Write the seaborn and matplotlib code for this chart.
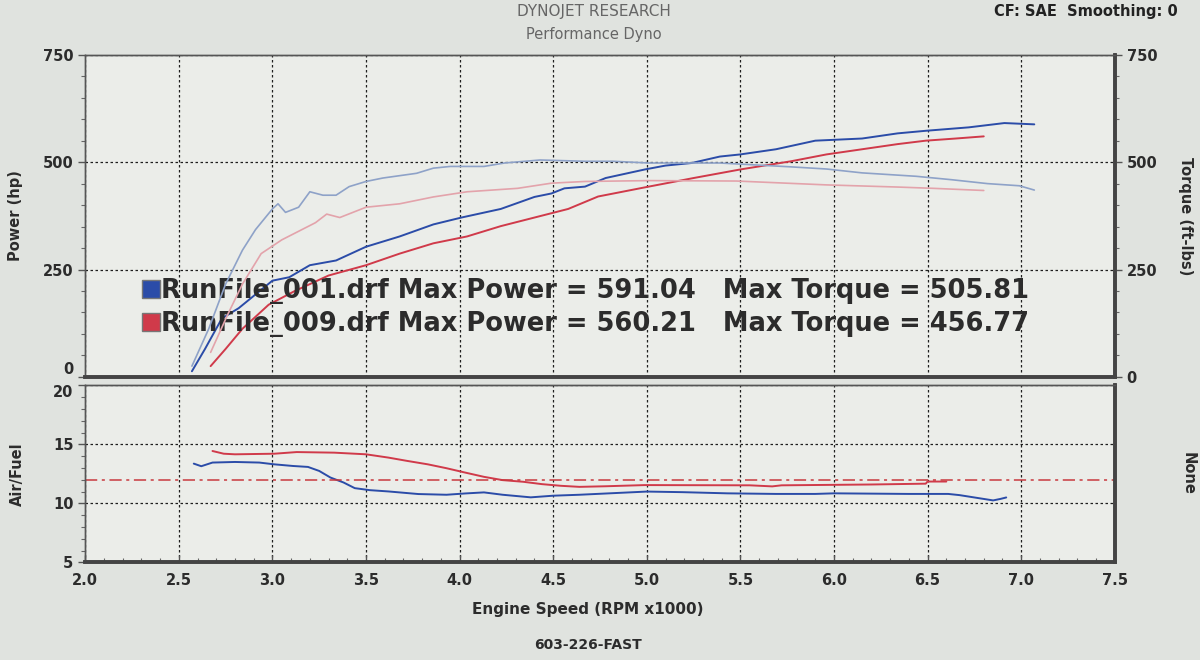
import matplotlib
matplotlib.use("Agg")
import matplotlib.pyplot as plt
import seaborn as sns
from matplotlib.lines import Line2D
from matplotlib.ticker import MultipleLocator

# --- values (engine speed in RPM x1000) ---
runs = ["RunFile_001.drf", "RunFile_009.drf"]
max_power = [591.04, 560.21]
max_torque = [505.81, 456.77]

# run 001 power (hp)
rpm_hp_001 = [2.57, 2.64, 2.73, 2.82, 3.00, 3.09, 3.20, 3.34, 3.50, 3.68, 3.86, 4.01,
              4.22, 4.40, 4.49, 4.56, 4.67, 4.78, 4.99, 5.10, 5.24, 5.39, 5.50, 5.69,
              5.90, 6.15, 6.34, 6.49, 6.72, 6.91, 7.07]
hp_001 = [13, 65, 136, 160, 224, 232, 260, 271, 303, 327, 355, 371,
          391, 419, 427, 439, 443, 463, 483, 492, 498, 513, 518, 530,
          550, 555, 567, 573, 581, 591, 588]

# run 009 power (hp)
rpm_hp_009 = [2.67, 2.75, 2.84, 2.98, 3.12, 3.30, 3.50, 3.68, 3.86, 4.04, 4.22, 4.40,
              4.58, 4.74, 5.01, 5.25, 5.50, 5.77, 5.96, 6.15, 6.34, 6.49, 6.65, 6.80]
hp_009 = [25, 65, 112, 168, 200, 236, 260, 287, 311, 327, 351, 371,
          391, 420, 443, 463, 483, 502, 518, 530, 542, 550, 555, 560]

# run 001 torque (ft-lbs)
rpm_tq_001 = [2.57, 2.66, 2.75, 2.84, 2.91, 3.00, 3.03, 3.07, 3.14, 3.20, 3.27, 3.34,
              3.41, 3.50, 3.59, 3.77, 3.86, 3.95, 4.13, 4.24, 4.43, 4.67, 4.82, 5.01,
              5.39, 5.77, 5.96, 6.15, 6.44, 6.63, 6.82, 6.99, 7.07]
tq_001 = [25, 112, 216, 295, 343, 391, 403, 383, 395, 431, 423, 423,
          443, 455, 463, 474, 486, 490, 490, 498, 505, 502, 502, 498,
          498, 489, 484, 475, 467, 459, 450, 445, 435]

# run 009 torque (ft-lbs)
rpm_tq_009 = [2.67, 2.76, 2.84, 2.94, 3.05, 3.23, 3.29, 3.36, 3.50, 3.68, 3.86, 4.04,
              4.31, 4.49, 4.67, 5.01, 5.48, 5.96, 6.34, 6.53, 6.80]
tq_009 = [57, 144, 216, 287, 319, 359, 379, 371, 395, 403, 419, 431,
          439, 451, 455, 457, 456, 447, 442, 439, 434]

# air/fuel ratio
rpm_af_001 = [2.58, 2.62, 2.68, 2.80, 2.93, 3.01, 3.11, 3.19, 3.25, 3.31, 3.38, 3.44,
              3.52, 3.62, 3.78, 3.93, 4.03, 4.13, 4.23, 4.38, 4.50, 4.64, 4.80, 5.00,
              5.19, 5.43, 5.69, 5.90, 6.00, 6.40, 6.61, 6.67, 6.77, 6.85, 6.89, 6.92]
af_001 = [13.37, 13.15, 13.46, 13.51, 13.46, 13.31, 13.17, 13.09, 12.75, 12.19, 11.77, 11.29,
          11.12, 11.01, 10.79, 10.73, 10.84, 10.93, 10.73, 10.51, 10.65, 10.73, 10.85, 11.0,
          10.95, 10.85, 10.8, 10.8, 10.85, 10.8, 10.8, 10.7, 10.45, 10.25, 10.38, 10.5]

rpm_af_009 = [2.68, 2.74, 2.80, 3.01, 3.13, 3.33, 3.50, 3.62, 3.72, 3.83, 3.93, 4.03,
              4.13, 4.23, 4.34, 4.44, 4.54, 4.64, 4.78, 4.99, 5.55, 5.67, 5.72, 6.20,
              6.49, 6.50, 6.60]
af_009 = [14.44, 14.21, 14.16, 14.21, 14.35, 14.30, 14.16, 13.88, 13.60, 13.31, 12.98, 12.61,
          12.25, 11.97, 11.83, 11.63, 11.49, 11.40, 11.45, 11.55, 11.53, 11.44, 11.53, 11.60,
          11.67, 11.85, 11.85]

af_target = 12.0
rpm_ticks = [2.0, 2.5, 3.0, 3.5, 4.0, 4.5, 5.0, 5.5, 6.0, 6.5, 7.0, 7.5]

#%%
blue = "#2b4ca8"
red = "#d03a4a"
blue_lt = "#8ea2c8"
red_lt = "#e3a3ab"
bg = "#e0e3df"
panel = "#ebede9"
ink = "#2c2c2c"

sns.set_theme(style="ticks")
plt.rcParams["font.family"] = ["DejaVu Sans"]

fig = plt.figure(figsize=(12, 6.6), dpi=100, facecolor=bg)
ax = fig.add_axes([0.071, 0.429, 0.858, 0.488], facecolor=panel)
ax_af = fig.add_axes([0.071, 0.148, 0.858, 0.268], facecolor=panel, sharex=ax)

# power + torque
sns.lineplot(x=rpm_hp_001, y=hp_001, ax=ax, color=blue, lw=1.4, estimator=None)
sns.lineplot(x=rpm_hp_009, y=hp_009, ax=ax, color=red, lw=1.4, estimator=None)
ax_t = ax.twinx()
sns.lineplot(x=rpm_tq_001, y=tq_001, ax=ax_t, color=blue_lt, lw=1.2, estimator=None)
sns.lineplot(x=rpm_tq_009, y=tq_009, ax=ax_t, color=red_lt, lw=1.2, estimator=None)

ax.set_xlim(2.0, 7.5)
for a in (ax, ax_t):
    a.set_ylim(0, 750)
    a.set_yticks([0, 250, 500, 750])
    a.yaxis.set_minor_locator(MultipleLocator(50))
ax.set_xticks(rpm_ticks)
ax.grid(True, which="major", color="#1e1e1e", ls=(0, (2, 2)), lw=0.9)
ax_t.grid(False)
ax.set_ylabel("Power (hp)", weight="bold", size=10.5, color=ink, labelpad=14)
ax_t.set_ylabel("Torque (ft-lbs)", weight="bold", size=10.5, color=ink,
                rotation=270, labelpad=26)

handles = [Line2D([], [], marker="s", ls="none", markersize=13,
                  markerfacecolor=c, markeredgecolor="#777") for c in (blue, red)]
labels = [f"{r} Max Power = {p:.2f}   Max Torque = {t:.2f}"
          for r, p, t in zip(runs, max_power, max_torque)]
leg = ax.legend(handles, labels, loc="upper left", bbox_to_anchor=(0.045, 0.34),
                frameon=False, prop=dict(weight="bold", size=18.5),
                handletextpad=0.05, labelspacing=0.3, handlelength=0.7,
                borderaxespad=0)
for t in leg.get_texts():
    t.set_color(ink)

# air / fuel
sns.lineplot(x=rpm_af_001, y=af_001, ax=ax_af, color=blue, lw=1.4, estimator=None)
sns.lineplot(x=rpm_af_009, y=af_009, ax=ax_af, color=red, lw=1.4, estimator=None)
ax_af.axhline(af_target, color="#c8393f", lw=1.1, ls=(0, (8, 3, 2, 3)))
ax_af.set_ylim(5, 20)
ax_af.set_yticks([5, 10, 15, 20])
ax_af.yaxis.set_minor_locator(MultipleLocator(1))
ax_af.set_xticks(rpm_ticks)
ax_af.set_xticklabels([f"{v:.1f}" for v in rpm_ticks])
ax_af.xaxis.set_minor_locator(MultipleLocator(0.1))
ax_af.grid(True, which="major", color="#1e1e1e", ls=(0, (2, 2)), lw=0.9)
ax_af.set_ylabel("Air/Fuel", weight="bold", size=10.5, color=ink, labelpad=20)
ax_af_r = ax_af.twinx()
ax_af_r.set_yticks([])
ax_af_r.set_ylabel("None", weight="bold", size=10.5, color=ink, rotation=270, labelpad=58)

for a in (ax, ax_t, ax_af, ax_af_r):
    a.tick_params(which="major", length=5, width=1, color="#555", labelsize=10.5,
                  labelcolor=ink, direction="out")
    a.tick_params(which="minor", length=3, width=0.8, color="#666")
    for lab in a.get_xticklabels() + a.get_yticklabels():
        lab.set_fontweight("bold")
    for side in ("top", "left"):
        a.spines[side].set_color("#555")
        a.spines[side].set_linewidth(1.0)
    for side in ("bottom", "right"):
        a.spines[side].set_color("#444")
        a.spines[side].set_linewidth(2.6)
ax.tick_params(axis="x", which="both", length=0, labelbottom=False)
ax_af.tick_params(axis="x", which="both", direction="in", pad=8)

# the "0" of the power scale and the "20" of the air/fuel scale sit on top of
# each other on the original sheet; nudge them apart a touch
ax.get_yticklabels()[0].set_va("bottom")
ax_af.get_yticklabels()[-1].set_va("top")

fig.text(0.495, 0.982, "DYNOJET RESEARCH", ha="center", va="center",
         size=11, color="#666")
fig.text(0.495, 0.948, "Performance Dyno", ha="center", va="center",
         size=10.5, color="#666")
fig.text(0.905, 0.982, "CF: SAE  Smoothing: 0", ha="center", va="center",
         size=10.5, color="#222", weight="bold")
fig.text(0.49, 0.077, "Engine Speed (RPM x1000)", ha="center", va="center",
         size=11, color=ink, weight="bold")
fig.text(0.49, 0.022, "603-226-FAST", ha="center", va="center",
         size=10, color=ink, weight="bold")

fig.savefig("out.png", dpi=100, facecolor=bg)
